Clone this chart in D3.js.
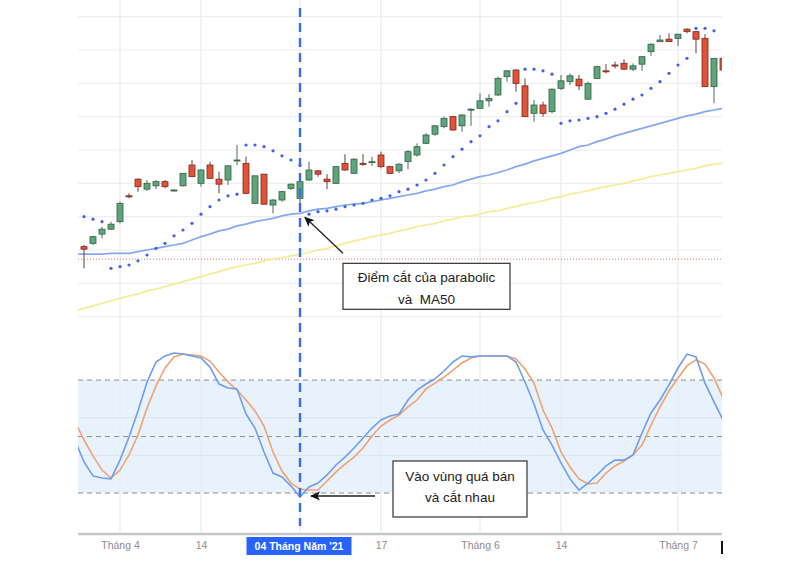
<!DOCTYPE html>
<html><head><meta charset="utf-8">
<script src="https://cdn.jsdelivr.net/npm/d3@7"></script>
<style>body{margin:0;background:#fff}svg{display:block}text{white-space:pre}</style>
</head><body><svg id="c" width="800" height="563"></svg>
<script>
// ---- categories (trading days) ----
const dates = ["2021-03-25","2021-03-26","2021-03-29","2021-03-30","2021-03-31",
"2021-04-01","2021-04-02","2021-04-05","2021-04-06","2021-04-07","2021-04-08","2021-04-09","2021-04-12","2021-04-13","2021-04-14","2021-04-15","2021-04-16","2021-04-19","2021-04-20","2021-04-22","2021-04-23","2021-04-26","2021-04-27","2021-04-28","2021-04-29",
"2021-05-04","2021-05-05","2021-05-06","2021-05-07","2021-05-10","2021-05-11","2021-05-12","2021-05-13","2021-05-14","2021-05-17","2021-05-18","2021-05-19","2021-05-20","2021-05-21","2021-05-24","2021-05-25","2021-05-26","2021-05-27","2021-05-28","2021-05-31",
"2021-06-01","2021-06-02","2021-06-03","2021-06-04","2021-06-07","2021-06-08","2021-06-09","2021-06-10","2021-06-11","2021-06-14","2021-06-15","2021-06-16","2021-06-17","2021-06-18","2021-06-21","2021-06-22","2021-06-23","2021-06-24","2021-06-25","2021-06-28","2021-06-29","2021-06-30",
"2021-07-01","2021-07-02","2021-07-05","2021-07-06","2021-07-07","2021-07-08"];
const candleDates = dates.slice(1);

// ---- OHLC (from 2021-03-26) ----
const open = [1164,1168,1179,1185,1194,1225,1245,1233,1237,1242,1231,1237,1262,1240,1262,1245,1244,1267,1264,1216,1251,1214,1220,1234,1222,1244,1255,1245,1240,1264,1252,1264,1266,1274,1260,1255,1266,1274,1288,1299,1308,1320,1309,1328,1330,1339,1346,1368,1376,1357,1324,1334,1326,1354,1362,1365,1341,1366,1375,1382,1384,1377,1383,1398,1410,1413,1414,1425,1422,1414,1356,1390];
const high = [1166,1177,1188,1194,1218,1228,1246,1244,1244,1244,1233,1252,1268,1257,1266,1254,1262,1286,1272,1249,1251,1221,1231,1240,1242,1266,1256,1251,1261,1275,1270,1275,1272,1278,1261,1264,1280,1288,1300,1310,1320,1321,1323,1330,1348,1347,1368,1376,1377,1366,1340,1338,1354,1370,1372,1370,1362,1381,1383,1386,1389,1384,1392,1408,1418,1420,1419,1426,1423,1419,1390,1393];
const low = [1138,1166,1174,1184,1192,1222,1230,1231,1233,1234,1230,1236,1248,1236,1246,1228,1238,1262,1227,1215,1215,1204,1218,1232,1212,1243,1248,1233,1239,1255,1251,1261,1261,1258,1251,1252,1257,1272,1287,1297,1306,1303,1302,1309,1330,1332,1345,1362,1350,1320,1314,1320,1324,1352,1358,1352,1340,1365,1372,1378,1376,1375,1375,1393,1410,1410,1405,1420,1396,1356,1336,1374];
const close = [1161,1176,1185,1191,1216,1224,1236,1240,1242,1236,1232,1252,1248,1256,1246,1239,1261,1268,1228,1249,1215,1220,1230,1239,1242,1256,1251,1242,1260,1256,1269,1263,1266,1260,1252,1263,1278,1284,1298,1309,1318,1304,1322,1329,1339,1342,1366,1375,1360,1320,1334,1324,1353,1363,1369,1357,1360,1380,1374,1381,1377,1381,1392,1407,1412,1410,1419,1422,1413,1356,1390,1376];

// ---- Parabolic SAR (from 2021-03-26) ----
const sar = [1200,1197,1194,1138,1140,1142,1147,1154,1162,1168,1177,1184,1192,1203,1212,1220,1225,1227,1286,1286,1284,1279,1273,1268,1262,1203,1206,1207,1209,1212,1214,1216,1220,1222,1225,1230,1233,1238,1244,1252,1262,1272,1281,1290,1297,1308,1315,1326,1336,1377,1377,1375,1371,1312,1315,1316,1318,1320,1324,1329,1335,1341,1346,1354,1362,1372,1382,1390,1426,1426,1423,null];

// ---- moving averages (from 2021-03-25) ----
const ma50 = [1155,1155,1155,1155,1156,1156,1156,1158,1160,1162,1164,1166,1168,1172,1176,1179,1183,1185,1189,1191,1194,1196,1198,1201,1203,1204,1207,1209,1210,1212,1214,1215,1216,1218,1220,1222,1224,1226,1228,1231,1233,1236,1238,1242,1245,1248,1250,1253,1256,1260,1263,1267,1270,1273,1276,1280,1284,1286,1290,1293,1297,1300,1303,1306,1309,1312,1315,1318,1321,1323,1326,1328,1330];
const ma200 = [1087,1090,1093,1096,1099,1102,1105,1107,1111,1113,1116,1119,1122,1125,1128,1131,1134,1137,1140,1142,1144,1147,1149,1151,1153,1155,1157,1160,1162,1165,1168,1171,1173,1176,1178,1180,1183,1185,1188,1190,1192,1195,1197,1200,1201,1203,1206,1207,1210,1212,1215,1217,1219,1222,1224,1227,1229,1231,1234,1236,1238,1240,1243,1245,1248,1250,1252,1254,1256,1258,1261,1263,1264];
const refLevel = 1149;

// ---- Stochastic oscillator (from 2021-03-25) ----
const stochK = [48.2,36.5,29.1,28.0,27.5,37.5,49.8,63.6,79.0,89.6,92.8,94.4,93.8,92.8,91.7,86.9,77.9,75.8,75.3,62.0,54.5,41.8,30.6,28.5,23.7,17.9,23.2,25.3,29.6,34.9,39.1,43.9,49.2,54.5,58.8,60.9,62.0,69.4,74.7,77.9,80.6,84.8,89.6,92.8,92.3,92.8,92.8,92.8,92.8,89.6,79.0,67.3,53.5,45.5,36.0,27.5,21.6,25.3,29.6,34.4,37.5,37.5,40.2,51.9,62.5,69.4,77.4,86.4,93.8,92.3,78.4,68.4,58.8];
const stochD = [57.7,48.2,39.7,32.2,28.0,32.2,40.2,50.8,65.2,76.9,86.4,92.3,93.8,93.3,92.8,90.1,84.3,79.0,74.7,69.4,63.6,55.6,41.8,31.7,25.3,22.1,21.6,21.6,26.4,31.2,35.4,39.1,43.9,50.3,55.6,58.8,61.4,65.7,69.4,75.3,78.4,81.6,85.3,89.1,91.7,92.8,92.8,92.8,92.8,91.2,85.9,78.4,64.1,54.5,41.8,33.8,27.5,24.8,25.3,30.6,34.4,37.0,40.2,45.5,56.1,65.7,74.2,81.1,87.5,90.7,88.5,81.1,70.5];
const oscBands = [20, 50, 80];
const oscGrid = [40, 60];
const priceGrid = [1080,1120,1160,1200,1240,1280,1320,1360,1400,1440];

// ---- axis ticks ----
const gridDates = ["2021-04-01","2021-04-14","2021-05-04","2021-05-17","2021-06-01","2021-06-14","2021-07-01"];
const tickDates = ["2021-04-01","2021-04-14","2021-05-17","2021-06-01","2021-06-14","2021-07-01"];
const tickLabels = ["Tháng 4","14","17","Tháng 6","14","Tháng 7"];
const crossDate = "2021-05-04";
const crossLabel = "04 Tháng Năm '21";
const note1 = ["Điểm cắt của parabolic", "và  MA50"];
const note2 = ["Vào vùng quá bán", "và cắt nhau"];

// ================= drawing =================
const svg = d3.select("#c");
const L = 78, R = 722, AX = 534;
const x = d3.scalePoint().domain(dates).range([75, 723]);
const yP = d3.scaleLinear().domain([1064, 1460]).range([330, 0]);
const yO = d3.scaleLinear().domain([0, 100]).range([530.7, 342.4]);

svg.append("rect").attr("width", 800).attr("height", 563).attr("fill", "#fff");
const defs = svg.append("defs");
defs.append("clipPath").attr("id", "clip").append("rect").attr("x", L).attr("y", 0).attr("width", R - L).attr("height", AX - 2);
defs.append("marker").attr("id", "ah").attr("viewBox", "0 0 10 10").attr("refX", 9).attr("refY", 5)
  .attr("markerWidth", 10).attr("markerHeight", 10).attr("markerUnits", "userSpaceOnUse").attr("orient", "auto")
  .append("path").attr("d", "M0,0.5 L10,5 L0,9.5 L2.5,5 Z").attr("fill", "#111");

const g = svg.append("g").attr("clip-path", "url(#clip)");

// oscillator band
g.append("rect").attr("x", L).attr("width", R - L)
  .attr("y", yO(80)).attr("height", yO(20) - yO(80)).attr("fill", "#e7f2fc");

// vertical grid
g.selectAll(".vg").data(gridDates).join("line")
  .attr("x1", d => x(d)).attr("x2", d => x(d)).attr("y1", 0).attr("y2", AX)
  .attr("stroke", "#ebebeb").attr("stroke-width", 1.2);
// price grid
g.selectAll(".hg").data(priceGrid).join("line")
  .attr("x1", L).attr("x2", R).attr("y1", d => yP(d)).attr("y2", d => yP(d))
  .attr("stroke", "#eeeeee").attr("stroke-width", 1.2);
// osc grid
g.selectAll(".og").data(oscGrid).join("line")
  .attr("x1", L).attr("x2", R).attr("y1", d => yO(d)).attr("y2", d => yO(d))
  .attr("stroke", "#dde3ea").attr("stroke-width", 1);
g.selectAll(".ob").data(oscBands).join("line")
  .attr("x1", L).attr("x2", R).attr("y1", d => yO(d)).attr("y2", d => yO(d))
  .attr("stroke", "#8f8f8f").attr("stroke-width", 1).attr("stroke-dasharray", "5,4");

// reference price line
g.append("line").attr("x1", L).attr("x2", R).attr("y1", yP(refLevel)).attr("y2", yP(refLevel))
  .attr("stroke", "#e57373").attr("stroke-width", 1).attr("stroke-dasharray", "1,2");

// moving averages
const lineOf = (arr, ys) => d3.line().x((d, i) => x(dates[i])).y(d => ys(d))(arr);
g.append("path").attr("d", lineOf(ma200, yP)).attr("fill", "none").attr("stroke", "#f6eb98").attr("stroke-width", 1.7);
g.append("path").attr("d", lineOf(ma50, yP)).attr("fill", "none").attr("stroke", "#86a8f0").attr("stroke-width", 1.7);

// candles
const cd = candleDates.map((d, i) => ({d, o: open[i], h: high[i], l: low[i], c: close[i]}));
const up = c => c.c >= c.o;
g.selectAll(".wick").data(cd).join("line")
  .attr("x1", c => x(c.d)).attr("x2", c => x(c.d))
  .attr("y1", c => yP(c.h)).attr("y2", c => yP(c.l))
  .attr("stroke", c => up(c) ? "#4d6b59" : "#6b3a30").attr("stroke-width", 1);
g.selectAll(".body").data(cd).join("rect")
  .attr("x", c => x(c.d) - 3).attr("width", 6)
  .attr("y", c => yP(Math.max(c.o, c.c)))
  .attr("height", c => Math.max(1, Math.abs(yP(c.o) - yP(c.c))))
  .attr("fill", c => up(c) ? "#5fa47a" : "#e0533b")
  .attr("stroke", c => up(c) ? "#2f6145" : "#7d2618").attr("stroke-width", 0.8);

// SAR
g.selectAll(".sar").data(candleDates.map((d, i) => ({d, v: sar[i]})).filter(p => p.v != null)).join("circle")
  .attr("cx", p => x(p.d)).attr("cy", p => yP(p.v)).attr("r", 1.6).attr("fill", "#3f62ee");

// oscillator lines
g.append("path").attr("d", lineOf(stochD, yO)).attr("fill", "none").attr("stroke", "#f0a171").attr("stroke-width", 1.6);
g.append("path").attr("d", lineOf(stochK, yO)).attr("fill", "none").attr("stroke", "#6e9cf0").attr("stroke-width", 1.6);

// crosshair
const cx = x(crossDate);
svg.append("line").attr("x1", cx).attr("x2", cx).attr("y1", 8).attr("y2", 526)
  .attr("stroke", "#3a6cf0").attr("stroke-width", 2.4).attr("stroke-dasharray", "9,6");

// axis
const ax = svg.append("g").attr("transform", `translate(0,${AX})`)
  .call(d3.axisBottom(x).tickValues(tickDates).tickSize(0).tickPadding(8).tickFormat((d, i) => tickLabels[i]));
ax.select(".domain").remove();
ax.selectAll("text").attr("font-family", "Liberation Sans, Arial, sans-serif").attr("font-size", 10.5).attr("fill", "#8d8d8d");
svg.append("line").attr("x1", L).attr("x2", R).attr("y1", AX).attr("y2", AX).attr("stroke", "#c6c6c6").attr("stroke-width", 2.5);

// crosshair label
const lblW = 105;
svg.append("rect").attr("x", cx - lblW / 2 - 1).attr("y", 537).attr("width", lblW).attr("height", 18).attr("fill", "#2962ff");
svg.append("text").attr("x", cx - 1).attr("y", 546).attr("text-anchor", "middle").attr("dominant-baseline", "central")
  .attr("font-family", "Liberation Sans, Arial, sans-serif").attr("font-size", 10.5).attr("font-weight", "bold")
  .attr("fill", "#fff").text(crossLabel);
svg.append("rect").attr("x", R - 1).attr("y", 541).attr("width", 2).attr("height", 13).attr("fill", "#111");

// annotations
const font = "Liberation Sans, Arial, sans-serif";
const t1x = cx, t1y = yP(ma50[dates.indexOf(crossDate)]);
svg.append("line").attr("x1", t1x + 43).attr("y1", t1y + 40).attr("x2", t1x + 5).attr("y2", t1y + 4)
  .attr("stroke", "#222").attr("stroke-width", 1.3).attr("marker-end", "url(#ah)");
const b1 = {x: t1x + 43, y: t1y + 50, w: 167, h: 46};
svg.append("rect").attr("x", b1.x).attr("y", b1.y).attr("width", b1.w).attr("height", b1.h)
  .attr("fill", "#fff").attr("stroke", "#333").attr("stroke-width", 1.2);
note1.forEach((s, i) => svg.append("text").attr("x", b1.x + b1.w / 2).attr("y", b1.y + 14 + i * 22)
  .attr("text-anchor", "middle").attr("dominant-baseline", "central").attr("font-family", font)
  .attr("font-size", 13.5).attr("fill", "#222").text(s));

const t2x = cx, t2y = yO(stochK[dates.indexOf(crossDate)]);
svg.append("line").attr("x1", t2x + 75).attr("y1", t2y - 1).attr("x2", t2x + 11).attr("y2", t2y - 1)
  .attr("stroke", "#222").attr("stroke-width", 1.3).attr("marker-end", "url(#ah)");
const b2 = {x: t2x + 93, y: t2y - 36, w: 134, h: 56};
svg.append("rect").attr("x", b2.x).attr("y", b2.y).attr("width", b2.w).attr("height", b2.h)
  .attr("fill", "#fff").attr("stroke", "#333").attr("stroke-width", 1.2);
note2.forEach((s, i) => svg.append("text").attr("x", b2.x + b2.w / 2).attr("y", b2.y + 16 + i * 21)
  .attr("text-anchor", "middle").attr("dominant-baseline", "central").attr("font-family", font)
  .attr("font-size", 13.5).attr("fill", "#222").text(s));
</script></body></html>
